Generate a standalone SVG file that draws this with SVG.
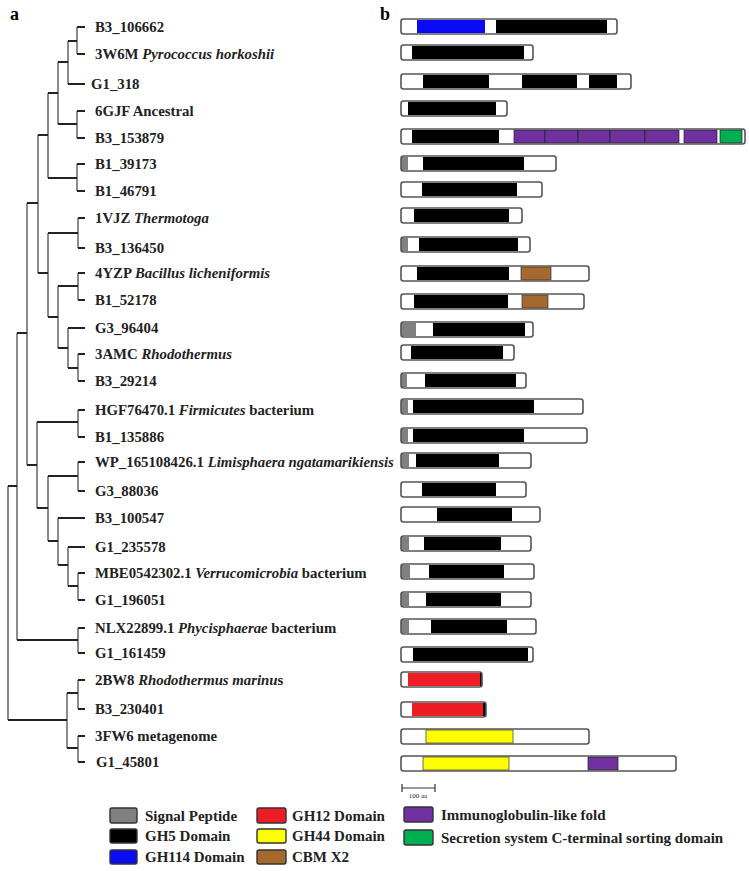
<svg xmlns="http://www.w3.org/2000/svg" width="749" height="871" viewBox="0 0 749 871">
<style>
text{font-family:"Liberation Serif","Times New Roman",serif;font-weight:bold;fill:#222}
.lb{font-size:14.8px}
.lg{font-size:15px}
.it{font-style:italic}
.pl{font-size:18px;fill:#000}
.h{stroke:#222;stroke-width:2;fill:none}
.v{stroke:#666;stroke-width:1.5;fill:none}
.bg{fill:#fff}
.ol{fill:none;stroke:#555;stroke-width:1.6}
.k{fill:#000}
.g{fill:#808080}
.bl{fill:#0a0af5}
.pu{fill:#7030a0;stroke:#222;stroke-width:0.7}
.gr{fill:#00b050;stroke:#222;stroke-width:0.7}
.br{fill:#a5692e;stroke:#333;stroke-width:0.7}
.rd{fill:#ee1c24}
.ye{fill:#ffff00;stroke:#333;stroke-width:0.7}
.sw{stroke:#333;stroke-width:1.4}
</style>
<rect width="749" height="871" fill="#fff"/>
<text class="pl" x="10" y="20">a</text>
<text class="pl" x="380" y="20">b</text>

<g id="connectors">
<path class="v" d="M8 486V720M17 333V640M27 203V465M38 135V273M48 93V178M58 62V124M68 41V84M77 27V54M77 111V138M77 164V191M48 233V317M78 218V248M58 286V348M78 273V300M68 328V368M78 354V381M37 422V508M78 410V437M48 476V541M78 462V491M58 518V565M68 547V586M78 573V600M78 628V653M67 693V748M78 680V709M78 736V762"/>
<path class="h" d="M8 486H17M8 720H67M17 333H27M17 640H78M27 203H38M27 465H37M38 135H48M38 273H48M48 93H58M48 178H77M58 62H68M58 124H77M68 41H77M68 84H85M77 27H85M77 54H85M77 111H85M77 138H85M77 164H85M77 191H85M48 233H78M48 317H58M58 286H78M58 348H68M68 328H85M68 368H78M78 218H85M78 248H85M78 273H85M78 300H85M78 354H85M78 381H85M37 422H78M37 508H48M48 476H78M48 541H58M58 518H85M58 565H68M68 547H85M68 586H78M78 410H85M78 437H85M78 462H85M78 491H85M78 573H85M78 600H85M78 628H85M78 653H85M67 693H78M67 748H78M78 680H85M78 709H85M78 736H85M78 762H85"/>
</g>

<g id="n1"><text class="lb" x="95" y="32">B3_106662</text>
<rect class="bg" x="401" y="19" width="216" height="15" rx="2.5"/><rect class="bl" x="417" y="20" width="68" height="13"/><rect class="k" x="496" y="20" width="111" height="13"/><rect class="ol" x="401" y="19" width="216" height="15" rx="2.5"/></g>

<g id="n2"><text class="lb" x="95" y="59">3W6M <tspan class="it">Pyrococcus horkoshii</tspan></text>
<rect class="bg" x="401" y="45" width="132" height="15" rx="2.5"/><rect class="k" x="412" y="46" width="112" height="13"/><rect class="ol" x="401" y="45" width="132" height="15" rx="2.5"/></g>

<g id="n3"><text class="lb" x="91" y="89">G1_318</text>
<rect class="bg" x="401" y="74" width="230" height="15" rx="2.5"/><rect class="k" x="423" y="75" width="66" height="13"/><rect class="k" x="522" y="75" width="55" height="13"/><rect class="k" x="589" y="75" width="28" height="13"/><rect class="ol" x="401" y="74" width="230" height="15" rx="2.5"/></g>

<g id="n4"><text class="lb" x="95" y="116">6GJF Ancestral</text>
<rect class="bg" x="401" y="101" width="106" height="15" rx="2.5"/><rect class="k" x="408" y="102" width="88" height="13"/><rect class="ol" x="401" y="101" width="106" height="15" rx="2.5"/></g>

<g id="n5"><text class="lb" x="95" y="143">B3_153879</text>
<rect class="bg" x="401" y="129" width="344" height="15" rx="2.5"/><rect class="k" x="412" y="130" width="87" height="13"/>
<rect class="pu" x="514" y="130" width="31" height="13"/><rect class="pu" x="545" y="130" width="33" height="13"/><rect class="pu" x="578" y="130" width="32" height="13"/><rect class="pu" x="610" y="130" width="35" height="13"/><rect class="pu" x="645" y="130" width="34" height="13"/><rect class="pu" x="684" y="130" width="33" height="13"/><rect class="gr" x="720" y="130" width="22" height="13"/>
<rect class="ol" x="401" y="129" width="344" height="15" rx="2.5"/></g>

<g id="n6"><text class="lb" x="95" y="169">B1_39173</text>
<rect class="bg" x="401" y="156" width="155" height="15" rx="2.5"/><rect class="g" x="401" y="157" width="7" height="13"/><rect class="k" x="423" y="157" width="101" height="13"/><rect class="ol" x="401" y="156" width="155" height="15" rx="2.5"/></g>

<g id="n7"><text class="lb" x="95" y="196">B1_46791</text>
<rect class="bg" x="401" y="182" width="141" height="15" rx="2.5"/><rect class="k" x="422" y="183" width="95" height="13"/><rect class="ol" x="401" y="182" width="141" height="15" rx="2.5"/></g>

<g id="n8"><text class="lb" x="95" y="223">1VJZ <tspan class="it">Thermotoga</tspan></text>
<rect class="bg" x="401" y="208" width="121" height="15" rx="2.5"/><rect class="k" x="414" y="209" width="95" height="13"/><rect class="ol" x="401" y="208" width="121" height="15" rx="2.5"/></g>

<g id="n9"><text class="lb" x="95" y="253">B3_136450</text>
<rect class="bg" x="401" y="237" width="129" height="15" rx="2.5"/><rect class="g" x="401" y="238" width="7" height="13"/><rect class="k" x="419" y="238" width="99" height="13"/><rect class="ol" x="401" y="237" width="129" height="15" rx="2.5"/></g>

<g id="n10"><text class="lb" x="95" y="278">4YZP <tspan class="it">Bacillus licheniformis</tspan></text>
<rect class="bg" x="401" y="266" width="188" height="15" rx="2.5"/><rect class="k" x="417" y="267" width="92" height="13"/><rect class="br" x="521" y="267" width="30" height="13"/><rect class="ol" x="401" y="266" width="188" height="15" rx="2.5"/></g>

<g id="n11"><text class="lb" x="95" y="305">B1_52178</text>
<rect class="bg" x="401" y="294" width="183" height="15" rx="2.5"/><rect class="k" x="414" y="295" width="94" height="13"/><rect class="br" x="522" y="295" width="26" height="13"/><rect class="ol" x="401" y="294" width="183" height="15" rx="2.5"/></g>

<g id="n12"><text class="lb" x="95" y="333">G3_96404</text>
<rect class="bg" x="401" y="322" width="132" height="15" rx="2.5"/><rect class="g" x="401" y="323" width="15" height="13"/><rect class="k" x="433" y="323" width="92" height="13"/><rect class="ol" x="401" y="322" width="132" height="15" rx="2.5"/></g>

<g id="n13"><text class="lb" x="95" y="359">3AMC <tspan class="it">Rhodothermus</tspan></text>
<rect class="bg" x="401" y="345" width="113" height="15" rx="2.5"/><rect class="k" x="411" y="346" width="92" height="13"/><rect class="ol" x="401" y="345" width="113" height="15" rx="2.5"/></g>

<g id="n14"><text class="lb" x="95" y="386">B3_29214</text>
<rect class="bg" x="401" y="373" width="125" height="15" rx="2.5"/><rect class="g" x="401" y="374" width="6" height="13"/><rect class="k" x="425" y="374" width="91" height="13"/><rect class="ol" x="401" y="373" width="125" height="15" rx="2.5"/></g>

<g id="n15"><text class="lb" x="95" y="415">HGF76470.1 <tspan class="it">Firmicutes</tspan> bacterium</text>
<rect class="bg" x="401" y="399" width="182" height="15" rx="2.5"/><rect class="g" x="401" y="400" width="7" height="13"/><rect class="k" x="413" y="400" width="121" height="13"/><rect class="ol" x="401" y="399" width="182" height="15" rx="2.5"/></g>

<g id="n16"><text class="lb" x="95" y="442">B1_135886</text>
<rect class="bg" x="401" y="428" width="186" height="15" rx="2.5"/><rect class="g" x="401" y="429" width="7" height="13"/><rect class="k" x="413" y="429" width="111" height="13"/><rect class="ol" x="401" y="428" width="186" height="15" rx="2.5"/></g>

<g id="n17"><text class="lb" x="95" y="467">WP_165108426.1 <tspan class="it">Limisphaera ngatamarikiensis</tspan></text>
<rect class="bg" x="401" y="453" width="130" height="15" rx="2.5"/><rect class="g" x="401" y="454" width="8" height="13"/><rect class="k" x="416" y="454" width="83" height="13"/><rect class="ol" x="401" y="453" width="130" height="15" rx="2.5"/></g>

<g id="n18"><text class="lb" x="95" y="496">G3_88036</text>
<rect class="bg" x="401" y="482" width="125" height="15" rx="2.5"/><rect class="k" x="422" y="483" width="74" height="13"/><rect class="ol" x="401" y="482" width="125" height="15" rx="2.5"/></g>

<g id="n19"><text class="lb" x="95" y="523">B3_100547</text>
<rect class="bg" x="401" y="507" width="139" height="15" rx="2.5"/><rect class="k" x="437" y="508" width="75" height="13"/><rect class="ol" x="401" y="507" width="139" height="15" rx="2.5"/></g>

<g id="n20"><text class="lb" x="95" y="552">G1_235578</text>
<rect class="bg" x="401" y="536" width="130" height="15" rx="2.5"/><rect class="g" x="401" y="537" width="8" height="13"/><rect class="k" x="424" y="537" width="77" height="13"/><rect class="ol" x="401" y="536" width="130" height="15" rx="2.5"/></g>

<g id="n21"><text class="lb" x="95" y="578">MBE0542302.1 <tspan class="it">Verrucomicrobia</tspan> bacterium</text>
<rect class="bg" x="401" y="564" width="133" height="15" rx="2.5"/><rect class="g" x="401" y="565" width="9" height="13"/><rect class="k" x="429" y="565" width="75" height="13"/><rect class="ol" x="401" y="564" width="133" height="15" rx="2.5"/></g>

<g id="n22"><text class="lb" x="95" y="605">G1_196051</text>
<rect class="bg" x="401" y="592" width="130" height="15" rx="2.5"/><rect class="g" x="401" y="593" width="8" height="13"/><rect class="k" x="426" y="593" width="75" height="13"/><rect class="ol" x="401" y="592" width="130" height="15" rx="2.5"/></g>

<g id="n23"><text class="lb" x="95" y="633">NLX22899.1 <tspan class="it">Phycisphaerae</tspan> bacterium</text>
<rect class="bg" x="401" y="619" width="135" height="15" rx="2.5"/><rect class="g" x="401" y="620" width="8" height="13"/><rect class="k" x="431" y="620" width="76" height="13"/><rect class="ol" x="401" y="619" width="135" height="15" rx="2.5"/></g>

<g id="n24"><text class="lb" x="95" y="658">G1_161459</text>
<rect class="bg" x="401" y="647" width="132" height="15" rx="2.5"/><rect class="k" x="413" y="648" width="115" height="13"/><rect class="ol" x="401" y="647" width="132" height="15" rx="2.5"/></g>

<g id="n25"><text class="lb" x="95" y="685">2BW8 <tspan class="it">Rhodothermus marinu</tspan>s</text>
<rect class="bg" x="401" y="672" width="81" height="15" rx="2.5"/><rect class="rd" x="408" y="673" width="72" height="13"/><rect class="k" x="480" y="673" width="2" height="13"/><rect class="ol" x="401" y="672" width="81" height="15" rx="2.5"/></g>

<g id="n26"><text class="lb" x="95" y="714">B3_230401</text>
<rect class="bg" x="401" y="702" width="85" height="15" rx="2.5"/><rect class="rd" x="412" y="703" width="71" height="13"/><rect class="k" x="483" y="703" width="3" height="13"/><rect class="ol" x="401" y="702" width="85" height="15" rx="2.5"/></g>

<g id="n27"><text class="lb" x="95" y="741">3FW6 metagenome</text>
<rect class="bg" x="401" y="729" width="188" height="15" rx="2.5"/><rect class="ye" x="426" y="730" width="87" height="13"/><rect class="ol" x="401" y="729" width="188" height="15" rx="2.5"/></g>

<g id="n28"><text class="lb" x="96" y="767">G1_45801</text>
<rect class="bg" x="401" y="756" width="275" height="15" rx="2.5"/><rect class="ye" x="423" y="757" width="86" height="13"/><rect class="pu" x="588" y="757" width="30" height="13"/><rect class="ol" x="401" y="756" width="275" height="15" rx="2.5"/></g>

<g id="scale">
<path d="M402 788H435M402 784V792M435 784V792" stroke="#333" stroke-width="1.2" fill="none"/>
<text x="418" y="798" text-anchor="middle" style="font-size:7px;font-weight:normal">100 aa</text>
</g>

<g id="legend">
<rect class="sw" x="110" y="808" width="27" height="15" rx="2" fill="#808080"/><text class="lg" x="145" y="821">Signal Peptide</text>
<rect class="sw" x="110" y="829" width="27" height="14" rx="2" fill="#000"/><text class="lg" x="145" y="841">GH5 Domain</text>
<rect class="sw" x="110" y="850" width="27" height="14" rx="2" fill="#0a0af5"/><text class="lg" x="145" y="862">GH114 Domain</text>
<rect class="sw" x="257" y="808" width="29" height="15" rx="2" fill="#ee1c24"/><text class="lg" x="292" y="821">GH12 Domain</text>
<rect class="sw" x="257" y="829" width="29" height="14" rx="2" fill="#ffff00"/><text class="lg" x="292" y="841">GH44 Domain</text>
<rect class="sw" x="257" y="850" width="29" height="14" rx="2" fill="#a5692e"/><text class="lg" x="292" y="862">CBM X2</text>
<rect class="sw" x="404" y="807" width="29" height="15" rx="2" fill="#7030a0"/><text class="lg" x="441" y="820">Immunoglobulin-like fold</text>
<rect class="sw" x="404" y="830" width="29" height="15" rx="2" fill="#00b050"/><text class="lg" x="441" y="843">Secretion system C-terminal sorting domain</text>
</g>
</svg>
